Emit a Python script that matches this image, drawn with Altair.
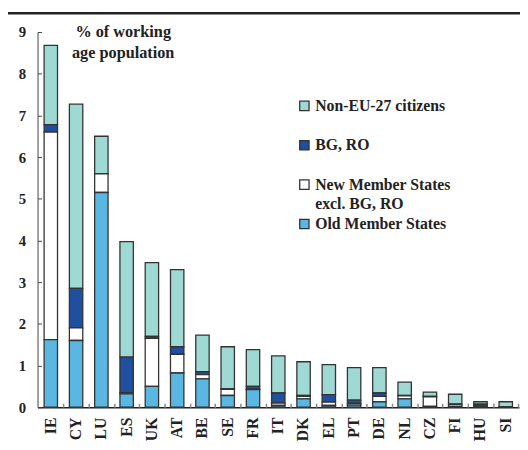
import altair as alt
import pandas as pd

countries = ["IE", "CY", "LU", "ES", "UK", "AT", "BE", "SE", "FR", "IT",
             "DK", "EL", "PT", "DE", "NL", "CZ", "FI", "HU", "SI"]
old_ms = [1.62, 1.60, 5.15, 0.32, 0.50, 0.82, 0.68, 0.28, 0.42, 0.04,
          0.20, 0.04, 0.05, 0.13, 0.20, 0.02, 0.02, 0.01, 0.005]
new_ms = [4.98, 0.30, 0.45, 0.03, 1.15, 0.45, 0.10, 0.15, 0.01, 0.06,
          0.06, 0.08, 0.04, 0.13, 0.07, 0.23, 0.05, 0.02, 0.005]
bg_ro = [0.18, 0.95, 0.0, 0.85, 0.05, 0.18, 0.07, 0.01, 0.07, 0.24,
         0.02, 0.18, 0.08, 0.08, 0.01, 0.01, 0.0, 0.04, 0.0]
non_eu = [1.90, 4.42, 0.90, 2.77, 1.77, 1.85, 0.88, 1.01, 0.88, 0.89,
          0.81, 0.72, 0.78, 0.61, 0.32, 0.10, 0.24, 0.06, 0.12]

series_names = ["Non-EU-27 citizens", "BG, RO",
                "New Member States excl. BG, RO", "Old Member States"]
legend_labels = [["Non-EU-27 citizens"], ["BG, RO"],
                 ["New Member States", "excl. BG, RO"], ["Old Member States"]]
series_colors = ["#9fd9d4", "#1f4f9e", "#ffffff", "#5ab7e2"]
series_values = [non_eu, bg_ro, new_ms, old_ms]
stack_order = [3, 2, 1, 0]

rows = []
for name, vals, o in zip(series_names, series_values, stack_order):
    for c, v in zip(countries, vals):
        rows.append({"country": c, "series": name, "value": v, "ord": o})
df = pd.DataFrame(rows)

FONT = "Liberation Serif"
INK = "#222222"

x_scale = alt.Scale(paddingInner=0.47, paddingOuter=0.26)
y_scale = alt.Scale(domain=[0, 9], nice=False)

bars = alt.Chart(df).mark_bar(stroke="#333333", strokeWidth=1.3).encode(
    x=alt.X("country:N", sort=countries, title=None, scale=x_scale,
            axis=alt.Axis(orient="bottom", labelAngle=-90, labelAlign="right",
                          labelBaseline="middle",
                          labelFont=FONT, labelFontWeight="bold", labelFontSize=16,
                          labelColor=INK, labelPadding=10, ticks=False,
                          domainColor=INK, domainWidth=1.5)),
    y=alt.Y("value:Q", stack="zero", title=None, scale=y_scale,
            axis=alt.Axis(orient="left", values=list(range(10)), grid=False, ticks=False,
                          labelFont=FONT, labelFontWeight="bold", labelFontSize=15,
                          labelColor=INK, labelPadding=12,
                          domainColor="#444", domainWidth=1)),
    color=alt.Color("series:N", scale=alt.Scale(domain=series_names, range=series_colors),
                    legend=None),
    order=alt.Order("ord:Q", sort="ascending"),
)

# invisible copy carrying inward-pointing tick marks
tick_layer = alt.Chart(df).mark_bar(opacity=0).encode(
    x=alt.X("country:N", sort=countries, title=None, scale=x_scale,
            axis=alt.Axis(orient="bottom", labels=False, domain=False, offset=-4,
                          tickSize=4, tickColor="#888", tickWidth=1.5, tickOffset=12.8)),
    y=alt.Y("value:Q", stack="zero", title=None, scale=y_scale,
            axis=alt.Axis(orient="left", values=list(range(10)), labels=False,
                          domain=False, grid=False,
                          offset=-4, tickSize=4, tickColor="#444", tickWidth=1)),
)

layers = [bars, tick_layer]

note = alt.Chart(pd.DataFrame({"t": [["% of working", "age population"]]})).mark_text(
    font=FONT, fontWeight="bold", fontSize=16.5, color=INK,
    align="center", baseline="middle", lineHeight=21
).encode(text="t", x=alt.value(87), y=alt.value(0))
layers.append(note)

# top rule of the source page
top_rule = alt.Chart(pd.DataFrame({"a": [0]})).mark_rule(color="#222", strokeWidth=2.5).encode(
    x=alt.value(-30), x2=alt.value(492), y=alt.value(-19), y2=alt.value(-19))
layers.append(top_rule)

# legend
sym_y = [75, 115, 155, 195]
for name, lab, col, yy in zip(series_names, legend_labels, series_colors, sym_y):
    sq = alt.Chart(pd.DataFrame({"s": [name]})).mark_square(
        size=90, stroke="#333", strokeWidth=1.3, opacity=1, fill=col
    ).encode(x=alt.value(271), y=alt.value(yy))
    tx = alt.Chart(pd.DataFrame({"t": [lab]})).mark_text(
        font=FONT, fontWeight="bold", fontSize=16, color=INK,
        align="left", baseline="middle", lineHeight=20
    ).encode(text="t", x=alt.value(282), y=alt.value(yy))
    layers += [sq, tx]

chart = alt.layer(*layers).resolve_axis(x="independent", y="independent").properties(
    width=489, height=381,
    autosize=alt.AutoSizeParams(type="none"),
    padding={"left": 30, "top": 21, "right": 1, "bottom": 35},
).configure_view(stroke=None)

chart.save("out.html", embed_options={"renderer": "svg", "actions": False})
